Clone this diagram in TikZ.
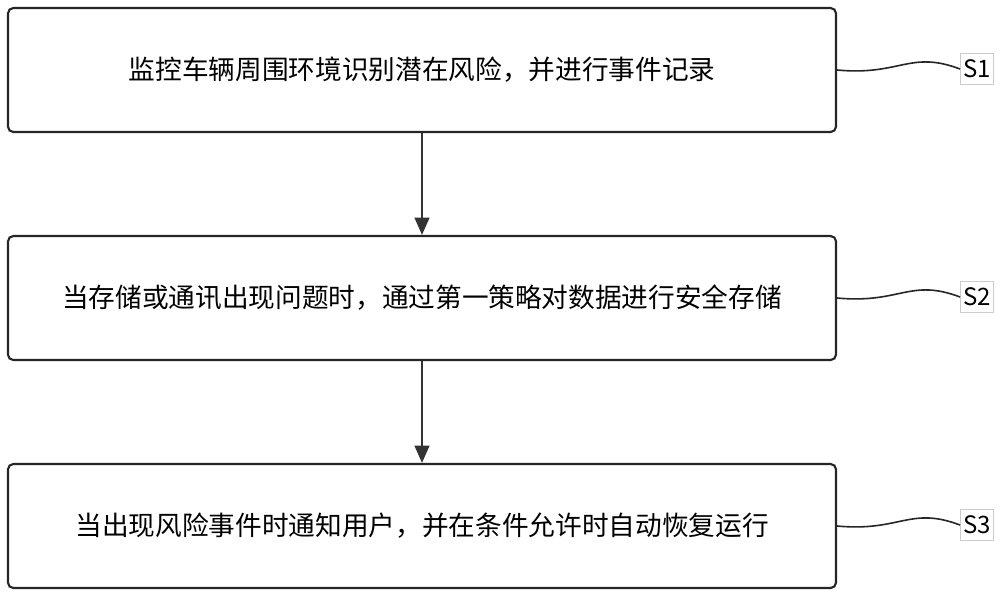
\documentclass[tikz,border=0pt]{standalone}
\usepackage{fontspec}
\newfontfamily\cjk{Noto Sans CJK SC}
\usetikzlibrary{arrows.meta}
\begin{document}
\begin{tikzpicture}[x=0.75pt,y=-0.75pt,
  stepbox/.style={draw=black!85,line width=1.6pt,rounded corners=4pt,minimum width=621pt,minimum height=93pt,inner sep=0pt,font=\cjk\fontsize{20}{22}\selectfont},
  lab/.style={draw=black!20,line width=0.5pt,inner sep=1pt,minimum width=25pt,minimum height=23pt,font=\cjk\fontsize{18}{20}\selectfont},
  arr/.style={-{Triangle[length=13pt,width=11pt]},line width=1.8pt,draw=black!80},
  wave/.style={line width=1.2pt,draw=black!85}]
\useasboundingbox (0,0) rectangle (1000,597);
\node[stepbox] (b1) at (422,70) {监控车辆周围环境识别潜在风险，并进行事件记录};
\node[stepbox] (b2) at (422,298) {当存储或通讯出现问题时，通过第一策略对数据进行安全存储};
\node[stepbox] (b3) at (422,526) {当出现风险事件时通知用户，并在条件允许时自动恢复运行};
\draw[arr] (b1) -- (b2);
\draw[arr] (b2) -- (b3);
\foreach \i/\y in {1/70,2/298,3/526}{
  \node[lab] (s\i) at (977,\y-1) {S\i};
  \draw[wave] (b\i.east) .. controls (900,\y+6) and (910,\y-20) .. (s\i.west);
}
\end{tikzpicture}
\end{document}
